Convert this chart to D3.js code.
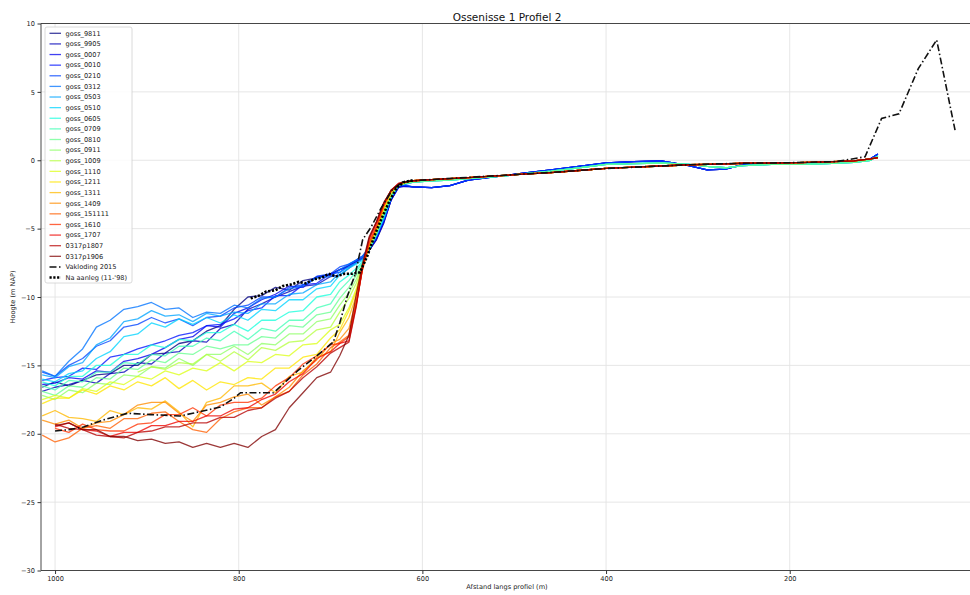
<!DOCTYPE html>
<html>
<head>
<meta charset="utf-8">
<script src="https://cdn.jsdelivr.net/npm/d3@7"></script>
<style>
  body { margin: 0; background: #fff; }
  text { font-family: "DejaVu Sans", sans-serif; }
</style>
</head>
<body>
<svg id="chart" width="970" height="595"></svg>
<script>
// ---- Data -------------------------------------------------------------
// Distance along the profile (m) for the deep part and slope of each survey
const deepDistances = [1014, 1000, 985, 970, 955, 940, 925, 910, 895, 880, 865, 850, 835, 820, 805, 790, 775, 760, 745, 730, 715, 700, 690, 680, 672, 665, 658, 650, 642, 634, 626, 620];
// Distance along the profile (m) for the shallow shelf
const shelfDistances = [610, 590, 570, 550, 520, 490, 460, 430, 400, 370, 340, 310, 290, 270, 250, 220, 190, 160, 130, 112, 104];

// Bed level (m NAP) per survey, deep part + slope
const goss_9811 = [-16.6, -16.2, -16.5, -16.1, -15.7, -15.6, -15.0, -15.0, -14.2, -14.1, -13.4, -13.2, -12.5, -12.1, -10.9, -10.0, -9.9, -9.3, -9.5, -8.8, -8.6, -8.3, -8.0, -7.7, -7.4, -7.2, -6.6, -5.8, -4.6, -2.9, -1.95, -1.85];
const goss_9905 = [-16.9, -16.6, -16.4, -16.1, -16.3, -15.6, -15.5, -14.8, -14.9, -14.1, -14.0, -13.2, -13.3, -12.3, -12.0, -10.9, -10.5, -10.0, -9.6, -9.2, -9.1, -8.5, -8.4, -7.9, -7.5, -7.2, -6.6, -5.8, -4.5, -2.9, -1.95, -1.9];
const goss_0007 = [-16.4, -16.3, -15.9, -16.0, -15.4, -15.5, -14.7, -14.5, -14.2, -13.7, -13.1, -12.9, -12.1, -12.2, -11.2, -10.8, -10.2, -9.8, -9.2, -9.3, -8.5, -8.4, -8.0, -7.8, -7.4, -7.1, -6.6, -5.7, -4.5, -2.9, -2.0, -1.9];
const goss_0010 = [-16.1, -15.9, -15.8, -15.2, -15.3, -14.4, -14.2, -13.8, -13.5, -13.2, -12.8, -12.6, -12.1, -12.0, -11.6, -11.0, -10.8, -9.9, -9.9, -9.1, -9.0, -8.3, -8.2, -7.7, -7.3, -7.0, -6.5, -5.6, -4.4, -2.8, -1.9, -1.85];
const goss_0210 = [-15.5, -15.8, -15.0, -14.5, -13.6, -13.2, -12.2, -12.0, -11.5, -11.9, -11.6, -12.1, -11.5, -11.4, -10.8, -10.6, -10.0, -10.0, -9.3, -9.1, -8.5, -8.3, -7.8, -7.6, -7.3, -7.0, -6.4, -5.5, -4.3, -2.8, -1.9, -1.8];
const goss_0312 = [-15.4, -15.8, -14.7, -13.8, -12.2, -11.7, -10.9, -10.7, -10.4, -10.9, -10.8, -11.5, -11.1, -11.2, -10.6, -10.8, -10.1, -10.0, -9.4, -9.2, -8.6, -8.5, -8.0, -7.6, -7.3, -7.0, -6.4, -5.5, -4.3, -2.7, -1.85, -1.8];
const goss_0503 = [-15.7, -15.9, -15.1, -14.8, -13.5, -13.0, -11.8, -11.6, -11.0, -11.4, -11.3, -11.8, -11.2, -11.4, -11.1, -11.2, -10.5, -10.5, -9.8, -9.7, -9.1, -8.9, -8.2, -7.8, -7.5, -7.2, -6.5, -5.5, -4.2, -2.7, -1.85, -1.75];
const goss_0510 = [-16.0, -16.2, -15.6, -15.4, -14.5, -14.0, -12.9, -12.7, -11.9, -12.2, -11.6, -12.0, -11.5, -11.9, -11.3, -11.7, -10.9, -11.0, -10.2, -10.2, -9.4, -9.2, -8.4, -7.9, -7.6, -7.3, -6.5, -5.5, -4.2, -2.7, -1.8, -1.7];
const goss_0605 = [-16.2, -16.5, -15.8, -15.8, -15.0, -15.0, -14.2, -14.2, -13.5, -13.7, -13.1, -13.2, -12.6, -12.6, -12.0, -12.5, -11.7, -11.7, -11.1, -11.0, -10.0, -9.8, -8.9, -8.4, -7.9, -7.4, -6.5, -5.4, -4.0, -2.6, -1.8, -1.7];
const goss_0709 = [-16.5, -16.8, -16.1, -16.2, -15.5, -15.5, -14.8, -14.9, -14.2, -14.3, -13.6, -13.6, -13.0, -13.2, -12.5, -13.1, -12.3, -12.5, -11.7, -11.7, -10.8, -10.5, -9.5, -8.8, -8.1, -7.5, -6.5, -5.4, -4.0, -2.6, -1.8, -1.7];
const goss_0810 = [-16.9, -17.2, -16.5, -16.6, -15.9, -16.0, -15.2, -15.3, -14.6, -14.8, -14.1, -14.2, -13.6, -13.8, -13.5, -13.5, -12.9, -13.0, -12.1, -12.2, -11.3, -11.1, -10.1, -9.3, -8.4, -7.6, -6.4, -5.3, -3.9, -2.5, -1.8, -1.7];
const goss_0911 = [-17.2, -17.5, -16.8, -17.0, -16.3, -16.4, -15.7, -15.8, -15.1, -15.2, -14.5, -15.0, -14.2, -14.2, -13.6, -14.2, -13.4, -13.5, -12.7, -12.7, -11.8, -11.6, -10.6, -9.7, -8.7, -7.6, -6.4, -5.3, -3.8, -2.5, -1.8, -1.7];
const goss_1009 = [null, null, null, null, null, null, null, -15.5, -15.1, -15.3, -14.8, -14.9, -14.2, -14.7, -14.0, -14.6, -13.7, -13.9, -13.3, -13.2, -12.4, -12.2, -11.1, -10.1, -9.0, -7.7, -6.3, -5.2, -3.7, -2.5, -1.8, -1.7];
const goss_1110 = [-17.5, -17.2, -17.4, -16.7, -16.9, -16.2, -16.4, -15.8, -16.0, -15.4, -15.7, -15.2, -15.4, -14.8, -15.4, -14.7, -14.8, -14.2, -14.3, -13.5, -13.4, -12.4, -12.0, -10.8, -9.4, -7.8, -6.2, -5.1, -3.6, -2.4, -1.8, -1.65];
const goss_1211 = [-17.8, -17.4, -17.4, -16.8, -17.1, -16.5, -16.8, -16.2, -16.5, -15.9, -16.7, -16.1, -16.8, -16.2, -16.4, -15.9, -16.0, -15.2, -15.2, -14.4, -14.2, -13.0, -12.4, -11.0, -9.6, -7.8, -6.2, -5.0, -3.5, -2.3, -1.8, -1.65];
const goss_1311 = [-18.7, -18.3, -18.8, -18.9, -19.1, -18.3, -18.6, -18.1, -18.2, -17.6, -18.4, -19.5, -17.7, -17.4, -16.5, -16.5, -16.3, -17.0, -15.8, -15.5, -14.4, -14.0, -12.6, -11.5, -9.9, -7.9, -6.2, -5.0, -3.4, -2.3, -1.75, -1.6];
const goss_1409 = [-19.0, -19.3, -19.0, -19.6, -19.2, -19.1, -18.6, -17.9, -17.7, -17.7, -18.5, -19.1, -17.9, -17.7, -17.3, -17.1, -17.9, -17.3, -16.6, -15.4, -14.6, -13.4, -13.1, -12.3, -10.2, -7.9, -6.2, -5.0, -3.4, -2.3, -1.75, -1.6];
const goss_151111 = [-20.1, -20.6, -20.3, -19.6, -19.4, -19.6, -18.9, -18.9, -18.5, -18.4, -19.1, -19.7, -19.9, -18.9, -18.4, -18.1, -18.1, -17.3, -16.9, -15.7, -14.9, -13.7, -13.3, -12.8, -10.4, -7.9, -6.1, -4.9, -3.3, -2.2, -1.75, -1.6];
const goss_1610 = [null, -19.6, -19.9, -19.3, -19.7, -19.8, -19.8, -19.3, -19.2, -18.6, -18.6, -18.1, -18.7, -17.9, -17.7, -17.7, -17.4, -16.5, -15.9, -14.9, -14.3, -13.5, -13.4, -12.9, -10.5, -7.9, -6.0, -4.8, -3.3, -2.2, -1.75, -1.6];
const goss_1707 = [null, -19.5, -19.2, -19.7, -19.8, -20.2, -19.9, -19.9, -19.4, -19.4, -19.1, -19.1, -18.7, -18.7, -18.2, -18.1, -17.5, -17.1, -16.2, -15.6, -14.5, -14.0, -13.4, -13.2, -10.6, -7.8, -5.8, -4.6, -3.2, -2.2, -1.7, -1.6];
const p0317_1807 = [null, -19.3, -19.6, -19.7, -20.1, -20.2, -20.3, -19.9, -19.8, -19.5, -19.5, -19.2, -19.2, -18.8, -18.8, -18.3, -18.1, -17.4, -16.9, -15.9, -15.1, -14.1, -13.7, -13.3, -10.7, -7.7, -5.7, -4.5, -3.1, -2.2, -1.7, -1.6];
const p0317_1906 = [null, -19.4, -19.2, -19.7, -19.7, -20.2, -20.2, -20.5, -20.4, -20.7, -20.6, -21.0, -20.7, -21.0, -20.7, -21.0, -20.2, -19.7, -18.1, -17.0, -15.9, -15.5, -14.3, -12.8, -9.8, -7.5, -5.6, -4.5, -3.1, -2.2, -1.8, -1.6];

// Shelf levels (m NAP), shared by groups of surveys
const shelfBlue = [-1.95, -2.0, -1.85, -1.45, -1.2, -0.95, -0.7, -0.45, -0.2, -0.1, -0.05, -0.4, -0.7, -0.65, -0.3, -0.2, -0.2, -0.15, -0.05, 0.1, 0.45];
const shelfCyan = [-1.6, -1.5, -1.45, -1.35, -1.2, -1.0, -0.8, -0.55, -0.3, -0.25, -0.2, -0.3, -0.45, -0.55, -0.4, -0.3, -0.3, -0.25, -0.15, 0.0, 0.3];
const shelfWarm = [-1.5, -1.42, -1.35, -1.27, -1.15, -1.02, -0.9, -0.75, -0.6, -0.5, -0.42, -0.33, -0.3, -0.27, -0.22, -0.2, -0.18, -0.12, -0.05, 0.1, 0.2];

const surveyNames = ["goss_9811", "goss_9905", "goss_0007", "goss_0010", "goss_0210", "goss_0312", "goss_0503", "goss_0510", "goss_0605", "goss_0709", "goss_0810", "goss_0911", "goss_1009", "goss_1110", "goss_1211", "goss_1311", "goss_1409", "goss_151111", "goss_1610", "goss_1707", "0317p1807", "0317p1906"];
const surveyDeep = [goss_9811, goss_9905, goss_0007, goss_0010, goss_0210, goss_0312, goss_0503, goss_0510, goss_0605, goss_0709, goss_0810, goss_0911, goss_1009, goss_1110, goss_1211, goss_1311, goss_1409, goss_151111, goss_1610, goss_1707, p0317_1807, p0317_1906];
const surveyShelf = [shelfBlue, shelfBlue, shelfBlue, shelfBlue, shelfBlue, shelfCyan, shelfCyan, shelfCyan, shelfCyan, shelfCyan, shelfCyan, shelfWarm, shelfWarm, shelfWarm, shelfWarm, shelfWarm, shelfWarm, shelfWarm, shelfWarm, shelfWarm, shelfWarm, shelfWarm];

// Vakloding 2015
const vakDistances = [1000, 985, 969, 948, 921, 896, 864, 850, 820, 805, 798, 762, 736, 715, 697, 690, 682, 673, 665, 656, 645, 633, 622, 600, 550, 500, 450, 420, 400, 350, 300, 250, 200, 150, 118, 100, 81, 60, 40, 20];
const vakLevels = [-19.8, -19.7, -19.5, -19.0, -18.5, -18.6, -18.7, -18.5, -18.05, -17.4, -17.0, -17.0, -15.4, -14.3, -13.3, -11.9, -10.0, -8.3, -5.8, -4.9, -3.5, -2.2, -1.6, -1.45, -1.25, -1.05, -0.85, -0.7, -0.6, -0.45, -0.3, -0.22, -0.18, -0.1, 0.25, 3.05, 3.4, 6.7, 8.8, 2.2];

// Na aanleg (11-'98)
const aanlegDistances = [787, 778, 770, 760, 752, 744, 735, 727, 718, 710, 702, 694, 685, 676, 668, 660, 652, 644, 636, 628, 620, 610];
const aanlegLevels = [-10.1, -9.9, -9.6, -9.5, -9.2, -9.1, -8.9, -9.0, -8.7, -8.6, -8.3, -8.5, -8.3, -8.3, -8.2, -7.0, -5.5, -4.2, -3.0, -2.0, -1.6, -1.45];

const xTicks = [1000, 800, 600, 400, 200];
const yTicks = [10, 5, 0, -5, -10, -15, -20, -25, -30];

// ---- Colormap (jet) ---------------------------------------------------
const jetR = [[0, 0], [0.35, 0], [0.66, 1], [0.89, 1], [1, 0.5]];
const jetG = [[0, 0], [0.125, 0], [0.375, 1], [0.64, 1], [0.91, 0], [1, 0]];
const jetB = [[0, 0.5], [0.11, 1], [0.34, 1], [0.65, 0], [1, 0]];
function channel(pts, t) {
  for (let i = 1; i < pts.length; i++) {
    if (t <= pts[i][0]) {
      const [t0, v0] = pts[i - 1], [t1, v1] = pts[i];
      return v0 + (v1 - v0) * (t - t0) / (t1 - t0);
    }
  }
  return pts[pts.length - 1][1];
}
function jet(t) {
  return d3.rgb(255 * channel(jetR, t), 255 * channel(jetG, t), 255 * channel(jetB, t)).formatHex();
}

// ---- Layout -----------------------------------------------------------
const svg = d3.select("#chart");
const plotLeft = 41, plotTop = 23.5, plotBottom = 570.5, plotRight = 973.4;

const x = d3.scaleLinear().domain([1015.3, 0]).range([plotLeft, plotRight]);
const y = d3.scaleLinear().domain([-30, 10]).range([plotBottom, plotTop]);

svg.append("defs").append("clipPath").attr("id", "plotclip")
  .append("rect").attr("x", plotLeft).attr("y", plotTop)
  .attr("width", plotRight - plotLeft).attr("height", plotBottom - plotTop);

// grid
const grid = svg.append("g").attr("stroke", "#e3e3e3").attr("stroke-width", 0.9);
grid.selectAll("line.gx").data(xTicks).join("line")
  .attr("x1", d => x(d)).attr("x2", d => x(d)).attr("y1", plotTop).attr("y2", plotBottom);
grid.selectAll("line.gy").data(yTicks).join("line")
  .attr("x1", plotLeft).attr("x2", plotRight).attr("y1", d => y(d)).attr("y2", d => y(d));

// survey lines
const lines = svg.append("g").attr("clip-path", "url(#plotclip)");
const line = d3.line().defined(d => d[1] !== null).x(d => x(d[0])).y(d => y(d[1]));

const surveys = surveyNames.map((name, i) => {
  const pts = deepDistances.map((dx, j) => [dx, surveyDeep[i][j]])
    .concat(shelfDistances.map((dx, j) => [dx, surveyShelf[i][j]]));
  return { name, color: jet(i / (surveyNames.length - 1)), pts };
});

lines.selectAll("path.survey").data(surveys).join("path")
  .attr("class", "survey")
  .attr("d", d => line(d.pts))
  .attr("fill", "none")
  .attr("stroke", d => d.color)
  .attr("stroke-opacity", 0.78)
  .attr("stroke-width", 1.3)
  .attr("stroke-linejoin", "round");

lines.append("path")
  .attr("d", line(vakDistances.map((dx, j) => [dx, vakLevels[j]])))
  .attr("fill", "none").attr("stroke", "#111").attr("stroke-width", 1.6)
  .attr("stroke-dasharray", "7,2.5,1.5,2.5");

lines.append("path")
  .attr("d", line(aanlegDistances.map((dx, j) => [dx, aanlegLevels[j]])))
  .attr("fill", "none").attr("stroke", "#000").attr("stroke-width", 2.6)
  .attr("stroke-dasharray", "2.2,1.6");

// axes
const fmt = d => (d < 0 ? "\u2212" + Math.abs(d) : String(d));
const xAxis = svg.append("g").attr("transform", `translate(0,${plotBottom})`)
  .call(d3.axisBottom(x).tickValues(xTicks).tickSize(3.5).tickPadding(2).tickFormat(fmt));
const yAxis = svg.append("g").attr("transform", `translate(${plotLeft},0)`)
  .call(d3.axisLeft(y).tickValues(yTicks).tickSize(3.5).tickPadding(2.5).tickFormat(fmt));
[xAxis, yAxis].forEach(a => {
  a.select(".domain").remove();
  a.selectAll("line").attr("stroke", "#333");
  a.selectAll("text").attr("font-size", 6.6).attr("fill", "#222")
    .attr("font-family", "DejaVu Sans, sans-serif");
});

// spines
const spines = svg.append("g").attr("stroke", "#333").attr("stroke-width", 0.9);
spines.append("line").attr("x1", plotLeft).attr("x2", plotLeft).attr("y1", plotTop).attr("y2", plotBottom);
spines.append("line").attr("x1", plotLeft).attr("x2", plotRight).attr("y1", plotBottom).attr("y2", plotBottom);
spines.append("line").attr("x1", plotLeft).attr("x2", plotRight).attr("y1", plotTop).attr("y2", plotTop);

// labels
svg.append("text").attr("x", 507).attr("y", 20.5).attr("text-anchor", "middle")
  .attr("font-size", 10.5).attr("fill", "#111").text("Ossenisse 1 Profiel 2");
svg.append("text").attr("x", 507).attr("y", 588.5).attr("text-anchor", "middle")
  .attr("font-size", 6.6).attr("fill", "#222").text("Afstand langs profiel (m)");
svg.append("text").attr("transform", "translate(15,297) rotate(-90)").attr("text-anchor", "middle")
  .attr("font-size", 6.6).attr("fill", "#222").text("Hoogte (m NAP)");

// legend
const legendItems = surveys.map(s => ({ name: s.name, color: s.color, dash: null, width: 1.3, opacity: 0.75 }))
  .concat([
    { name: "Vakloding 2015", color: "#111", dash: "7,2.5,1.5,2.5", width: 1.6, opacity: 1 },
    { name: "Na aanleg (11-'98)", color: "#000", dash: "2.2,1.6", width: 2.6, opacity: 1 }
  ]);
const legend = svg.append("g");
legend.append("rect").attr("x", 45).attr("y", 27).attr("width", 87).attr("height", 256)
  .attr("rx", 2).attr("fill", "#fff").attr("fill-opacity", 0.85)
  .attr("stroke", "#d0d0d0").attr("stroke-width", 0.8);
const rows = legend.selectAll("g.row").data(legendItems).join("g")
  .attr("transform", (d, i) => `translate(0,${33.3 + 10.62 * i})`);
rows.append("line").attr("x1", 49.5).attr("x2", 61).attr("y1", 0).attr("y2", 0)
  .attr("stroke", d => d.color).attr("stroke-width", d => d.width)
  .attr("stroke-opacity", d => d.opacity)
  .attr("stroke-dasharray", d => d.dash);
rows.append("text").attr("x", 65.5).attr("y", 0).attr("dy", "0.35em")
  .attr("font-size", 6.6).attr("fill", "#222").text(d => d.name);
</script>
</body>
</html>
